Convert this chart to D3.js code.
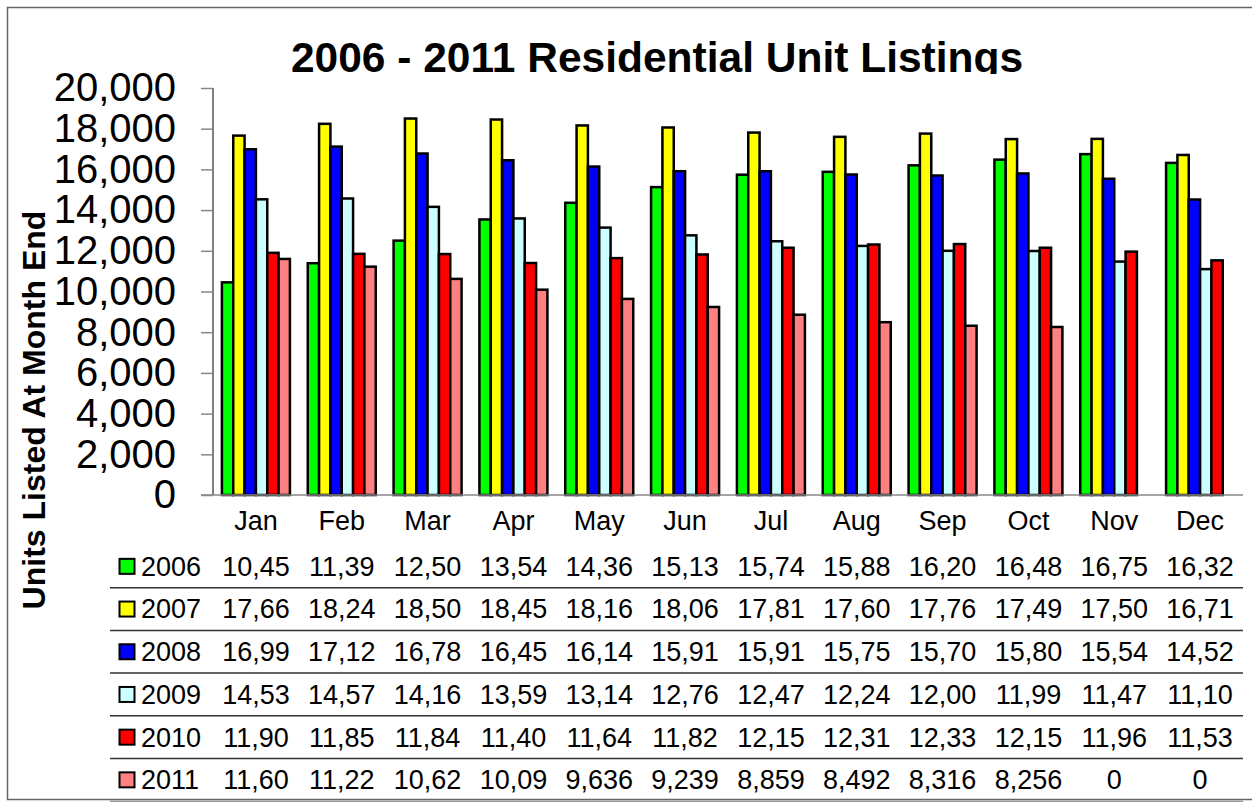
<!DOCTYPE html>
<html>
<head>
<meta charset="utf-8">
<script src="https://cdn.jsdelivr.net/npm/d3@7"></script>
<style>
  body { margin: 0; background: #fff; }
  svg { display: block; font-family: "Liberation Sans", Arial, sans-serif; }
</style>
</head>
<body>
<div id="chart"></div>
<script>
// data (table cells are clipped in the original, last digit estimated)
var months = ["Jan", "Feb", "Mar", "Apr", "May", "Jun", "Jul", "Aug", "Sep", "Oct", "Nov", "Dec"]
var years = ["2006", "2007", "2008", "2009", "2010", "2011"]
var colors = ["#00ff00", "#ffff00", "#0000ff", "#ccffff", "#ff0000", "#ff8080"]

var v2006 = [10450, 11390, 12500, 13540, 14360, 15130, 15740, 15880, 16200, 16480, 16750, 16320]
var v2007 = [17660, 18240, 18500, 18450, 18160, 18060, 17810, 17600, 17760, 17490, 17500, 16710]
var v2008 = [16990, 17120, 16780, 16450, 16140, 15910, 15910, 15750, 15700, 15800, 15540, 14520]
var v2009 = [14530, 14570, 14160, 13590, 13140, 12760, 12470, 12240, 12000, 11990, 11470, 11100]
var v2010 = [11900, 11850, 11840, 11400, 11640, 11820, 12150, 12310, 12330, 12150, 11960, 11530]
var v2011 = [11600, 11220, 10620, 10090, 9636, 9239, 8859, 8492, 8316, 8256, 0, 0]

var yTicks = [0, 2000, 4000, 6000, 8000, 10000, 12000, 14000, 16000, 18000, 20000]

var series = [v2006, v2007, v2008, v2009, v2010, v2011]

var width = 1252, height = 802
var plot = {left: 213, right: 1243, top: 88, bottom: 495}

var svg = d3.select("#chart")
  .append("svg")
  .attr("width", width)
  .attr("height", height)

// chart frame
svg.append("path")
  .attr("d", "M1252,7.5H7.5V799.5H1252")
  .attr("fill", "none")
  .attr("stroke", "#666")
  .attr("stroke-width", 1.5)

// title, clipped at the bottom like the original
svg.append("clipPath")
  .attr("id", "titleClip")
  .append("rect")
  .attr("x", 0).attr("y", 0).attr("width", width).attr("height", 74)

svg.append("text")
  .attr("clip-path", "url(#titleClip)")
  .attr("x", 657)
  .attr("y", 72)
  .attr("text-anchor", "middle")
  .attr("font-size", 42.5)
  .attr("font-weight", "bold")
  .text("2006 - 2011 Residential Unit Listings")

// scales
var x0 = d3.scaleBand()
  .domain(months)
  .range([plot.left, plot.right])

var groupW = 68
var x1 = d3.scaleBand()
  .domain(years)
  .range([(x0.bandwidth() - groupW) / 2, (x0.bandwidth() + groupW) / 2])

var y = d3.scaleLinear()
  .domain([0, 20000])
  .range([plot.bottom, plot.top])

// y axis
var yAxis = svg.append("g")
  .attr("transform", "translate(" + plot.left + ",0)")
  .call(d3.axisLeft(y)
    .tickValues(yTicks)
    .tickFormat(d3.format(","))
    .tickSize(12)
    .tickPadding(25))

yAxis.select(".domain")
  .attr("d", "M0," + plot.top + "V" + plot.bottom)
  .attr("stroke", "#000")
yAxis.selectAll(".tick line").attr("stroke", "#888").attr("stroke-width", 1.5)
yAxis.selectAll(".tick text")
  .attr("font-size", 40)
  .attr("font-family", "Liberation Sans, Arial, sans-serif")
  .attr("fill", "#000")

// y axis title
svg.append("text")
  .attr("transform", "translate(45,410) rotate(-90)")
  .attr("text-anchor", "middle")
  .attr("font-size", 32)
  .attr("font-weight", "bold")
  .text("Units Listed At Month End")

// bars
var groups = svg.selectAll(".series")
  .data(series)
  .enter()
  .append("g")
  .attr("class", "series")
  .attr("fill", (d, i) => colors[i])

groups.selectAll("rect")
  .data((d, i) => d.map((v, m) => ({month: months[m], year: years[i], value: v})))
  .enter()
  .filter(d => d.value > 0)
  .append("rect")
  .attr("x", d => x0(d.month) + x1(d.year))
  .attr("y", d => y(d.value))
  .attr("width", x1.bandwidth())
  .attr("height", d => y(0) - y(d.value))
  .attr("stroke", "#000")
  .attr("stroke-width", 2.5)

// baseline
svg.append("line")
  .attr("x1", plot.left - 12)
  .attr("x2", plot.right)
  .attr("y1", y(0))
  .attr("y2", y(0))
  .attr("stroke", "#888")
  .attr("stroke-width", 1.5)

// month labels
svg.selectAll(".month")
  .data(months)
  .enter()
  .append("text")
  .attr("class", "month")
  .attr("x", d => x0(d) + x0.bandwidth() / 2)
  .attr("y", 530)
  .attr("text-anchor", "middle")
  .attr("font-size", 27)
  .text(d => d)

// data table
var rowTop = 545, rowH = 42.7
var fmt = d3.format(",")

var rows = svg.selectAll(".row")
  .data(series)
  .enter()
  .append("g")
  .attr("class", "row")
  .attr("transform", (d, i) => "translate(0," + (rowTop + i * rowH) + ")")

rows.append("rect")
  .attr("x", 119.5)
  .attr("y", rowH / 2 - 7.5)
  .attr("width", 15)
  .attr("height", 15)
  .attr("fill", (d, i) => colors[i])
  .attr("stroke", "#000")
  .attr("stroke-width", 2)

rows.append("text")
  .attr("x", 141)
  .attr("y", rowH / 2)
  .attr("dy", "0.35em")
  .attr("font-size", 27)
  .text((d, i) => years[i])

rows.selectAll(".cell")
  .data(d => d)
  .enter()
  .append("text")
  .attr("class", "cell")
  .attr("x", (d, m) => x0(months[m]) + x0.bandwidth() / 2)
  .attr("y", rowH / 2)
  .attr("dy", "0.35em")
  .attr("text-anchor", "middle")
  .attr("font-size", 27)
  .text(d => fmt(d).slice(0, 5))

rows.append("line")
  .attr("x1", 110)
  .attr("x2", plot.right)
  .attr("y1", rowH)
  .attr("y2", rowH)
  .attr("stroke", (d, i) => i == series.length - 1 ? "#999" : "#333")
  .attr("stroke-width", 1.5)
</script>
</body>
</html>
